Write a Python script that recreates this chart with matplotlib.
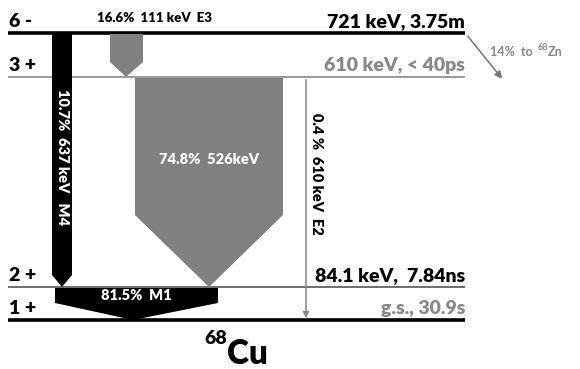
import matplotlib.pyplot as plt
from matplotlib.patches import Polygon

plt.rcParams['font.family'] = ['Lato', 'DejaVu Sans']
PESO = 'heavy'

# Niveles (de arriba a abajo)
espines = ["6 -", "3 +", "2 +", "1 +"]
etiquetas = ["721 keV, 3.75m", "610 keV, < 40ps", "84.1 keV,  7.84ns", "g.s., 30.9s"]
y_nivel = [33, 77, 287, 320]
color_nivel = ["black", "#888888", "#555555", "black"]
ancho_nivel = [2.6, 1.2, 1.2, 2.6]
color_texto = ["black", "#888888", "black", "#888888"]

# Transiciones gamma
gamma_textos = ["16.6%  111 keV  E3", "10.7%  637 keV   M4", "74.8%  526keV", "81.5%  M1",
                "0.4 %  610 keV  E2"]

fig = plt.figure(figsize=(5.8, 3.69), dpi=100)
ax = fig.add_axes([0, 0, 1, 1])
ax.set_xlim(0, 580)
ax.set_ylim(369, 0)
ax.axis('off')

x0, x1 = 8, 465
for i in range(len(espines)):
    ax.plot([x0, x1], [y_nivel[i], y_nivel[i]], color=color_nivel[i], lw=ancho_nivel[i],
            solid_capstyle='butt', zorder=1)
    ax.text(9, y_nivel[i] - 3, espines[i], fontsize=14, fontweight=PESO, color='black',
            va='bottom', ha='left')
    ax.text(x1, y_nivel[i] - 3, etiquetas[i], fontsize=14, fontweight=PESO,
            color=color_texto[i], va='bottom', ha='right')

# Flechas
flechas = [
    ([(110, 34), (143, 34), (143, 62), (126, 77), (110, 62)], "#808080"),
    ([(52, 34), (72, 34), (72, 275), (62, 287), (52, 275)], "black"),
    ([(135, 78), (283, 78), (283, 215), (209, 287), (135, 215)], "#808080"),
    ([(55, 288), (218, 288), (218, 303), (133, 320), (55, 303)], "black"),
]
for pts, c in flechas:
    ax.add_patch(Polygon(pts, closed=True, facecolor=c, edgecolor='none', zorder=2))

ax.text(97, 18, gamma_textos[0], fontsize=9.5, fontweight=PESO, va='center', ha='left')
ax.text(62, 157, gamma_textos[1], fontsize=10.5, fontweight=PESO, color='white',
        rotation=-90, va='center', ha='center', zorder=3)
ax.text(209, 160, gamma_textos[2], fontsize=10.5, fontweight=PESO, color='white',
        va='center', ha='center', zorder=3)
ax.text(136, 296, gamma_textos[3], fontsize=10.5, fontweight=PESO, color='white',
        va='center', ha='center', zorder=3)

# transicion E2 debil
ax.annotate("", xy=(306, 321), xytext=(306, 77),
            arrowprops=dict(arrowstyle='-|>', color='#888888', lw=1.1, mutation_scale=9))
ax.text(316, 174, gamma_textos[4], fontsize=10.5, fontweight=PESO, rotation=-90,
        va='center', ha='center')

# desintegracion beta
ax.annotate("", xy=(504, 81), xytext=(466, 34),
            arrowprops=dict(arrowstyle='-|>', color='#777777', lw=1.1, mutation_scale=11))
ax.text(490, 52, "14%  to", fontsize=9, fontweight='bold', color='#888888',
        va='center', ha='left')
ax.text(538, 47, "68", fontsize=6.5, fontweight='bold', color='#888888', va='center', ha='left')
ax.text(548, 52, "Zn", fontsize=9, fontweight='bold', color='#888888', va='center', ha='left')

# nucleo
ax.text(227, 339, "68", fontsize=14, fontweight=PESO, va='center', ha='right')
ax.text(227, 354, "Cu", fontsize=24, fontweight=PESO, va='center', ha='left')

fig.savefig("out.png", dpi=100)
